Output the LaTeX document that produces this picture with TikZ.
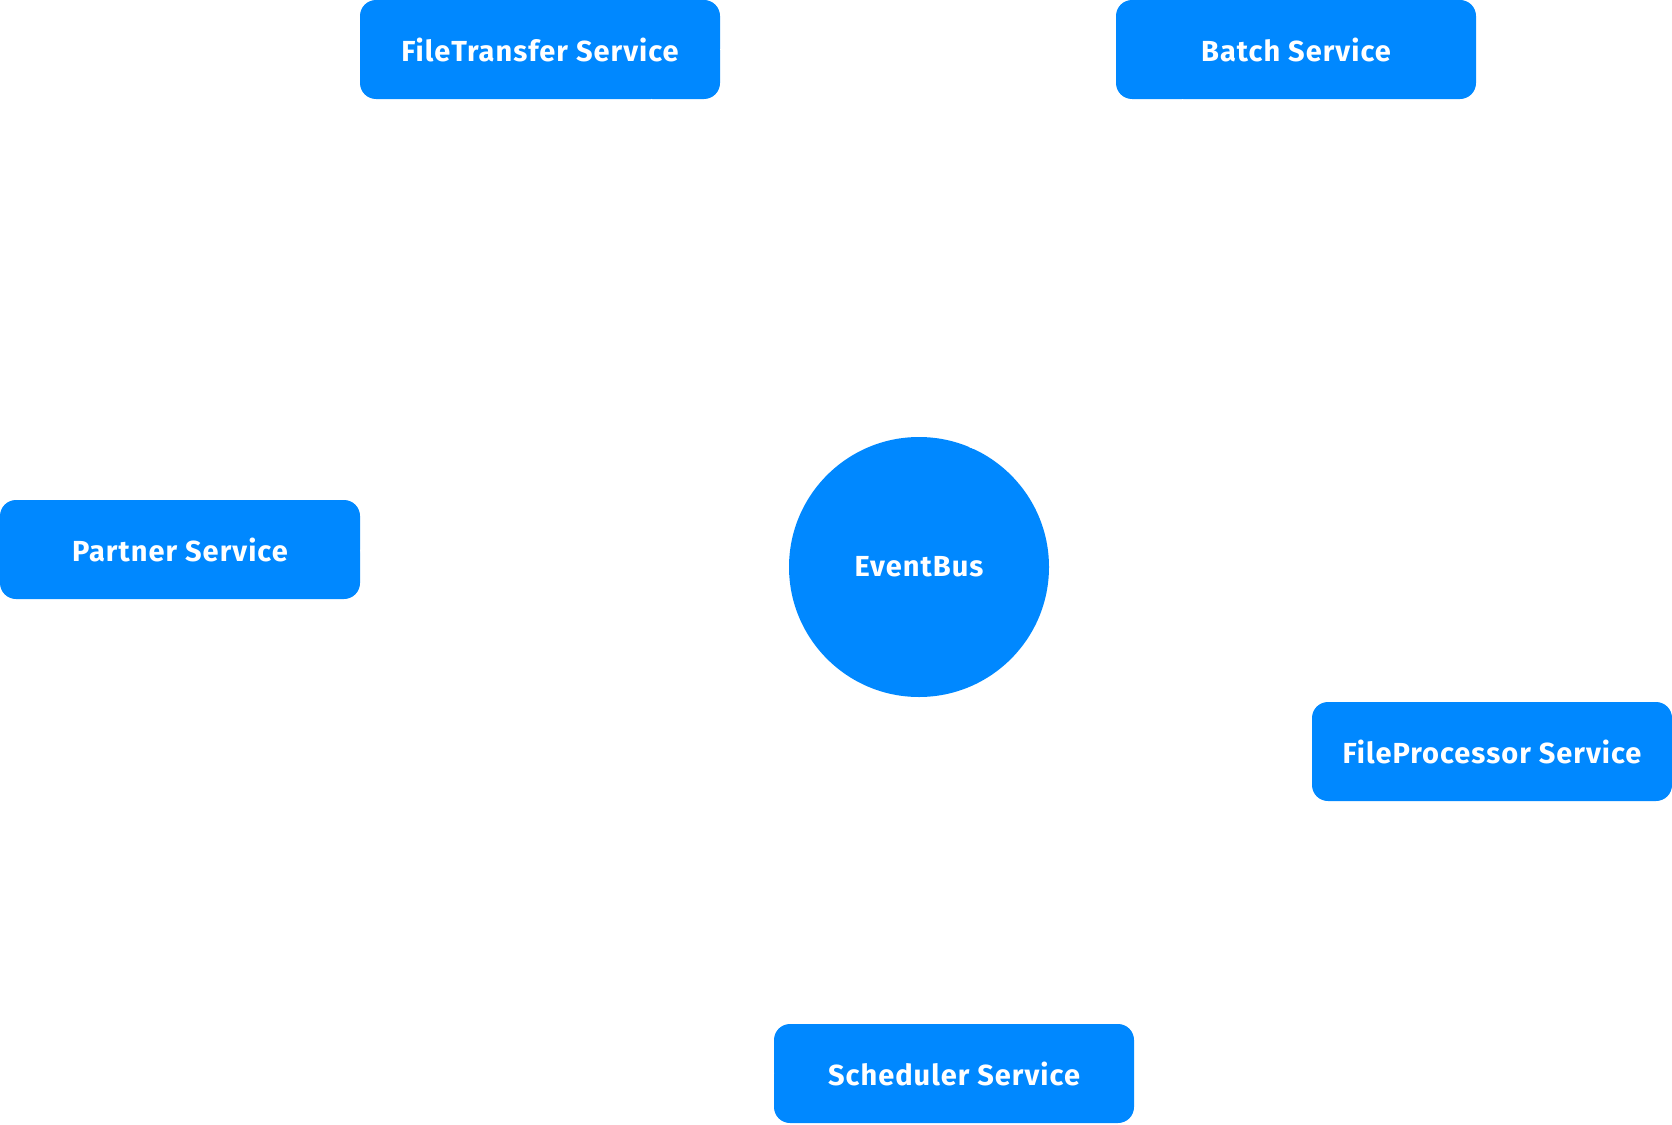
\documentclass[tikz,border=0pt]{standalone}
\usepackage{fontspec}
\setmainfont{Fira Sans}[LetterSpace=3.5]
\definecolor{busblue}{RGB}{0,136,255}
\tikzset{
  service/.style={fill=busblue, rounded corners=16pt, minimum width=360pt, minimum height=99pt,
    text=white, font=\bfseries\fontsize{29}{34}\selectfont, inner sep=0pt},
  hub/.style={circle, fill=busblue, minimum size=260pt, text=white,
    font=\bfseries\fontsize{29}{34}\selectfont, inner sep=0pt},
  link/.style={white, line width=1pt, -stealth}
}
\begin{document}
\begin{tikzpicture}[x=1pt,y=-1pt]
\useasboundingbox (0,0) rectangle (1672,1124);
\node[hub] (bus) at (919,567) {EventBus};
\node[service] (transfer) at (540,49.5) {FileTransfer Service};
\node[service] (batch) at (1296,49.5) {Batch Service};
\node[service] (partner) at (180,549.5) {Partner Service};
\node[service] (processor) at (1492,751.5) {FileProcessor Service};
\node[service] (scheduler) at (954,1073.5) {Scheduler Service};
% connectors, white on white
\draw[link] (transfer.east) -- (batch.west);
\draw[link] (batch.south west) ++(67,0) coordinate (b1) (b1) -- (bus.40);
\draw[link] (transfer.south east) ++(-69,0) coordinate (t1) (t1) -- (bus.65);
\draw[link] (scheduler.north) ++(-33,0) coordinate (s1) (s1) -- (bus.south);
\draw[link] (processor.west) -- (bus.-40);
\draw[link] (scheduler.west) -- (partner.east);
\end{tikzpicture}
\end{document}
